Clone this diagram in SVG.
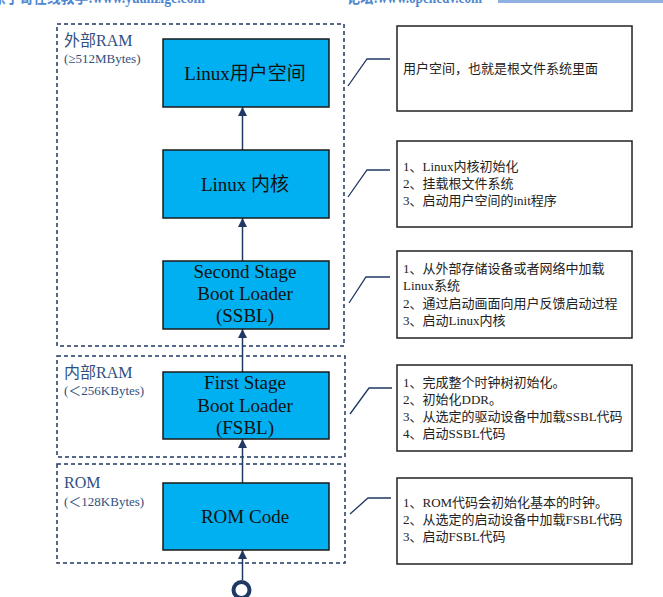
<svg xmlns="http://www.w3.org/2000/svg" width="663" height="597" viewBox="0 0 663 597">
<style>
.hdr{font-family:"Liberation Serif","Noto Sans CJK SC",serif;font-size:16px;font-weight:bold;fill:#4f86d0}
.region{fill:none;stroke:#1f3864;stroke-width:1.5;stroke-dasharray:4 3}
.rlab{font-family:"Liberation Serif","Noto Sans CJK SC",serif;font-size:16px;fill:#2f4f80}
.rsub{font-family:"Liberation Serif","Noto Sans CJK SC",serif;font-size:13px;fill:#2f4f80}
.node{fill:#00b0f0;stroke:#1a1a1a;stroke-width:1.5}
.ntxt{font-family:"Liberation Serif","Noto Sans CJK SC",serif;font-size:19px;fill:#111;text-anchor:middle}
.note{fill:#fff;stroke:#222;stroke-width:1.5}
.ntext{font-family:"Liberation Serif","Noto Sans CJK SC",serif;font-size:13px;fill:#222}
.conn{fill:none;stroke:#1f3864;stroke-width:1.5}
.lead{fill:none;stroke:#1f3864;stroke-width:1.3}
</style>
<defs>
<marker id="arr" viewBox="0 0 10 10" refX="10" refY="5" markerWidth="6" markerHeight="6" orient="auto" markerUnits="strokeWidth">
<path d="M0,0 L10,5 L0,10 z" fill="#1f3864"/>
</marker>
</defs>

<g id="header">
<text class="hdr" x="-8" y="3" textLength="213" lengthAdjust="spacingAndGlyphs">原子哥在线教学:www.yuanzige.com</text>
<text class="hdr" x="347" y="3" textLength="135" lengthAdjust="spacingAndGlyphs">论坛:www.openedv.com</text>
<rect x="498" y="0" width="165" height="3" fill="#8fb0e0"/>
</g>

<g id="region-ext-ram">
<rect class="region" x="57" y="24" width="287" height="322"/>
<text class="rlab" x="64" y="46">外部RAM</text>
<text class="rsub" x="64" y="63">(≥512MBytes)</text>
</g>
<g id="region-int-ram">
<rect class="region" x="57" y="356" width="288" height="101"/>
<text class="rlab" x="64" y="378">内部RAM</text>
<text class="rsub" x="64" y="395">(＜256KBytes)</text>
</g>
<g id="region-rom">
<rect class="region" x="57" y="464" width="288" height="99"/>
<text class="rlab" x="64" y="488">ROM</text>
<text class="rsub" x="64" y="506">(＜128KBytes)</text>
</g>

<g id="connectors">
<line class="conn" x1="242.5" y1="150" x2="242.5" y2="107" marker-end="url(#arr)"/>
<line class="conn" x1="242.5" y1="261" x2="242.5" y2="218" marker-end="url(#arr)"/>
<line class="conn" x1="242.5" y1="372" x2="242.5" y2="329" marker-end="url(#arr)"/>
<line class="conn" x1="242.5" y1="483" x2="242.5" y2="439" marker-end="url(#arr)"/>
<line class="conn" x1="242.5" y1="580" x2="242.5" y2="550" marker-end="url(#arr)"/>
<polyline class="lead" points="348,86 367,59 390,59"/>
<polyline class="lead" points="348,197 367,170 390,170"/>
<polyline class="lead" points="349,303 366,277 390,277"/>
<polyline class="lead" points="350,414 369,388 392,388"/>
<polyline class="lead" points="350,514 368,498 391,498"/>
</g>

<g id="start">
<circle cx="241.5" cy="590" r="8" fill="#fff" stroke="#1f3864" stroke-width="4"/>
</g>

<g id="node-userspace">
<rect class="node" x="163" y="39" width="166" height="68"/>
<text class="ntxt" x="245" y="80">Linux用户空间</text>
</g>
<g id="node-kernel">
<rect class="node" x="163" y="150" width="166" height="68"/>
<text class="ntxt" x="245" y="191">Linux 内核</text>
</g>
<g id="node-ssbl">
<rect class="node" x="163" y="261" width="166" height="68"/>
<text class="ntxt" x="245" y="278">Second Stage</text>
<text class="ntxt" x="245" y="300">Boot Loader</text>
<text class="ntxt" x="245" y="322">(SSBL)</text>
</g>
<g id="node-fsbl">
<rect class="node" x="163" y="372" width="166" height="67"/>
<text class="ntxt" x="245" y="389">First Stage</text>
<text class="ntxt" x="245" y="412">Boot Loader</text>
<text class="ntxt" x="245" y="434">(FSBL)</text>
</g>
<g id="node-rom">
<rect class="node" x="163" y="483" width="166" height="67"/>
<text class="ntxt" x="245" y="523">ROM Code</text>
</g>

<g id="note-userspace">
<rect class="note" x="397" y="26" width="235" height="85"/>
<text class="ntext" x="403" y="73">用户空间，也就是根文件系统里面</text>
</g>
<g id="note-kernel">
<rect class="note" x="397" y="141" width="235" height="86"/>
<text class="ntext" x="403" y="171">1、Linux内核初始化</text>
<text class="ntext" x="403" y="188">2、挂载根文件系统</text>
<text class="ntext" x="403" y="205">3、启动用户空间的init程序</text>
</g>
<g id="note-ssbl">
<rect class="note" x="397" y="251" width="235" height="87"/>
<text class="ntext" x="403" y="273">1、从外部存储设备或者网络中加载</text>
<text class="ntext" x="403" y="290">Linux系统</text>
<text class="ntext" x="403" y="308">2、通过启动画面向用户反馈启动过程</text>
<text class="ntext" x="403" y="325">3、启动Linux内核</text>
</g>
<g id="note-fsbl">
<rect class="note" x="397" y="365" width="235" height="86"/>
<text class="ntext" x="403" y="387">1、完成整个时钟树初始化。</text>
<text class="ntext" x="403" y="404">2、初始化DDR。</text>
<text class="ntext" x="403" y="421">3、从选定的驱动设备中加载SSBL代码</text>
<text class="ntext" x="403" y="438">4、启动SSBL代码</text>
</g>
<g id="note-rom">
<rect class="note" x="397" y="478" width="235" height="86"/>
<text class="ntext" x="403" y="507">1、ROM代码会初始化基本的时钟。</text>
<text class="ntext" x="403" y="524">2、从选定的启动设备中加载FSBL代码</text>
<text class="ntext" x="403" y="541">3、启动FSBL代码</text>
</g>
</svg>
